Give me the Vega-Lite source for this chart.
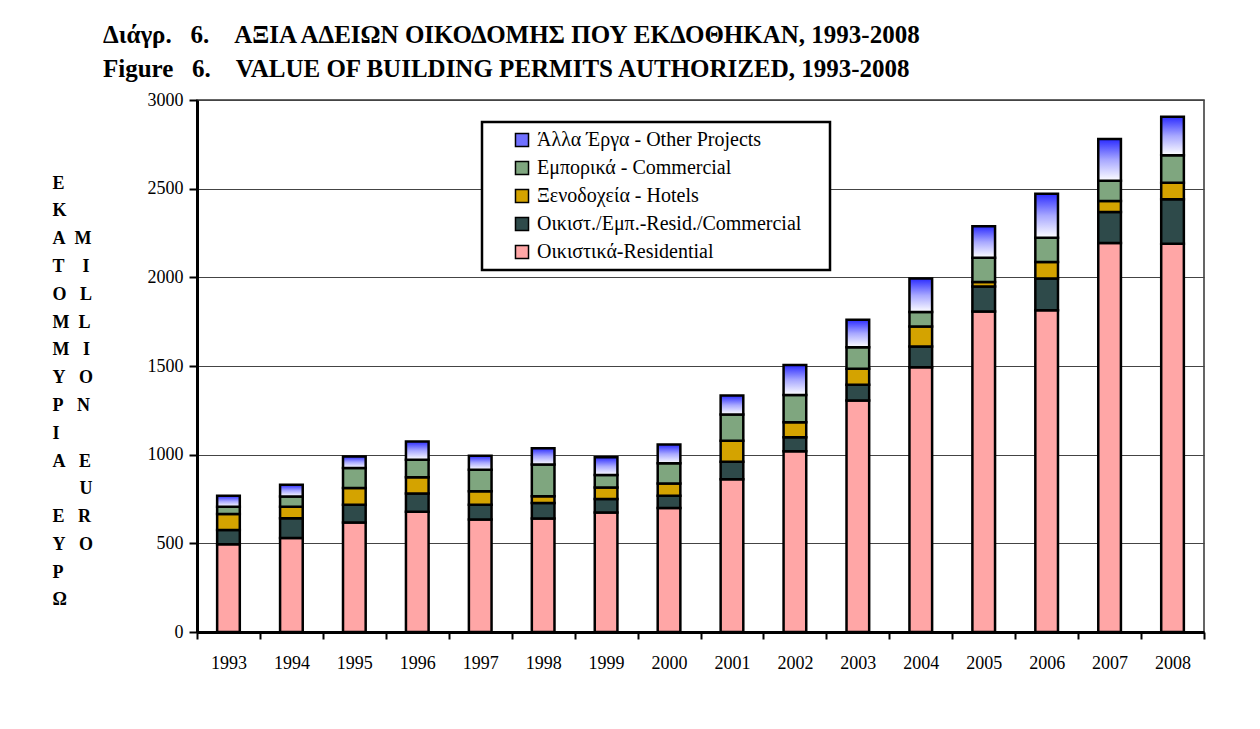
{
  "$schema": "https://vega.github.io/schema/vega-lite/v6.json",
  "autosize": "none",
  "width": 1007,
  "height": 532,
  "padding": {"left": 197, "top": 100, "right": 56, "bottom": 97},
  "background": "white",
  "config": {
    "font": "Liberation Serif",
    "view": {"stroke": "#333333", "strokeWidth": 1.5},
    "axis": {"labelFont": "Liberation Serif", "titleFont": "Liberation Serif"},
    "legend": {"labelFont": "Liberation Serif", "titleFont": "Liberation Serif"}
  },
  "title": {
    "text": [
      "Διάγρ.\u00a0\u00a0\u00a06.\u00a0\u00a0\u00a0\u00a0ΑΞΙΑ ΑΔΕΙΩΝ ΟΙΚΟΔΟΜΗΣ ΠΟΥ ΕΚΔΟΘΗΚΑΝ, 1993-2008",
      "Figure\u00a0\u00a0\u00a06.\u00a0\u00a0\u00a0\u00a0VALUE OF BUILDING PERMITS AUTHORIZED, 1993-2008"
    ],
    "anchor": "start",
    "frame": "group",
    "orient": "top",
    "dx": -94,
    "offset": 9,
    "font": "Liberation Serif",
    "fontSize": 25,
    "fontWeight": "bold",
    "lineHeight": 34,
    "color": "black"
  },
  "data": {
    "values": [
      {"year": "1993", "cat": "Οικιστικά-Residential", "ord": 1, "value": 495},
      {"year": "1993", "cat": "Οικιστ./Εμπ.-Resid./Commercial", "ord": 2, "value": 80},
      {"year": "1993", "cat": "Ξενοδοχεία - Hotels", "ord": 3, "value": 90},
      {"year": "1993", "cat": "Εμπορικά - Commercial", "ord": 4, "value": 41},
      {"year": "1993", "cat": "Άλλα Έργα - Other Projects", "ord": 5, "value": 62},
      {"year": "1994", "cat": "Οικιστικά-Residential", "ord": 1, "value": 530},
      {"year": "1994", "cat": "Οικιστ./Εμπ.-Resid./Commercial", "ord": 2, "value": 112},
      {"year": "1994", "cat": "Ξενοδοχεία - Hotels", "ord": 3, "value": 64},
      {"year": "1994", "cat": "Εμπορικά - Commercial", "ord": 4, "value": 58},
      {"year": "1994", "cat": "Άλλα Έργα - Other Projects", "ord": 5, "value": 66},
      {"year": "1995", "cat": "Οικιστικά-Residential", "ord": 1, "value": 618},
      {"year": "1995", "cat": "Οικιστ./Εμπ.-Resid./Commercial", "ord": 2, "value": 100},
      {"year": "1995", "cat": "Ξενοδοχεία - Hotels", "ord": 3, "value": 94},
      {"year": "1995", "cat": "Εμπορικά - Commercial", "ord": 4, "value": 113},
      {"year": "1995", "cat": "Άλλα Έργα - Other Projects", "ord": 5, "value": 65},
      {"year": "1996", "cat": "Οικιστικά-Residential", "ord": 1, "value": 678},
      {"year": "1996", "cat": "Οικιστ./Εμπ.-Resid./Commercial", "ord": 2, "value": 103},
      {"year": "1996", "cat": "Ξενοδοχεία - Hotels", "ord": 3, "value": 91},
      {"year": "1996", "cat": "Εμπορικά - Commercial", "ord": 4, "value": 100},
      {"year": "1996", "cat": "Άλλα Έργα - Other Projects", "ord": 5, "value": 102},
      {"year": "1997", "cat": "Οικιστικά-Residential", "ord": 1, "value": 635},
      {"year": "1997", "cat": "Οικιστ./Εμπ.-Resid./Commercial", "ord": 2, "value": 83},
      {"year": "1997", "cat": "Ξενοδοχεία - Hotels", "ord": 3, "value": 75},
      {"year": "1997", "cat": "Εμπορικά - Commercial", "ord": 4, "value": 122},
      {"year": "1997", "cat": "Άλλα Έργα - Other Projects", "ord": 5, "value": 79},
      {"year": "1998", "cat": "Οικιστικά-Residential", "ord": 1, "value": 640},
      {"year": "1998", "cat": "Οικιστ./Εμπ.-Resid./Commercial", "ord": 2, "value": 87},
      {"year": "1998", "cat": "Ξενοδοχεία - Hotels", "ord": 3, "value": 38},
      {"year": "1998", "cat": "Εμπορικά - Commercial", "ord": 4, "value": 179},
      {"year": "1998", "cat": "Άλλα Έργα - Other Projects", "ord": 5, "value": 92},
      {"year": "1999", "cat": "Οικιστικά-Residential", "ord": 1, "value": 674},
      {"year": "1999", "cat": "Οικιστ./Εμπ.-Resid./Commercial", "ord": 2, "value": 76},
      {"year": "1999", "cat": "Ξενοδοχεία - Hotels", "ord": 3, "value": 65},
      {"year": "1999", "cat": "Εμπορικά - Commercial", "ord": 4, "value": 70},
      {"year": "1999", "cat": "Άλλα Έργα - Other Projects", "ord": 5, "value": 100},
      {"year": "2000", "cat": "Οικιστικά-Residential", "ord": 1, "value": 699},
      {"year": "2000", "cat": "Οικιστ./Εμπ.-Resid./Commercial", "ord": 2, "value": 69},
      {"year": "2000", "cat": "Ξενοδοχεία - Hotels", "ord": 3, "value": 70},
      {"year": "2000", "cat": "Εμπορικά - Commercial", "ord": 4, "value": 113},
      {"year": "2000", "cat": "Άλλα Έργα - Other Projects", "ord": 5, "value": 106},
      {"year": "2001", "cat": "Οικιστικά-Residential", "ord": 1, "value": 861},
      {"year": "2001", "cat": "Οικιστ./Εμπ.-Resid./Commercial", "ord": 2, "value": 99},
      {"year": "2001", "cat": "Ξενοδοχεία - Hotels", "ord": 3, "value": 119},
      {"year": "2001", "cat": "Εμπορικά - Commercial", "ord": 4, "value": 147},
      {"year": "2001", "cat": "Άλλα Έργα - Other Projects", "ord": 5, "value": 107},
      {"year": "2002", "cat": "Οικιστικά-Residential", "ord": 1, "value": 1019},
      {"year": "2002", "cat": "Οικιστ./Εμπ.-Resid./Commercial", "ord": 2, "value": 79},
      {"year": "2002", "cat": "Ξενοδοχεία - Hotels", "ord": 3, "value": 85},
      {"year": "2002", "cat": "Εμπορικά - Commercial", "ord": 4, "value": 154},
      {"year": "2002", "cat": "Άλλα Έργα - Other Projects", "ord": 5, "value": 168},
      {"year": "2003", "cat": "Οικιστικά-Residential", "ord": 1, "value": 1305},
      {"year": "2003", "cat": "Οικιστ./Εμπ.-Resid./Commercial", "ord": 2, "value": 89},
      {"year": "2003", "cat": "Ξενοδοχεία - Hotels", "ord": 3, "value": 90},
      {"year": "2003", "cat": "Εμπορικά - Commercial", "ord": 4, "value": 122},
      {"year": "2003", "cat": "Άλλα Έργα - Other Projects", "ord": 5, "value": 155},
      {"year": "2004", "cat": "Οικιστικά-Residential", "ord": 1, "value": 1493},
      {"year": "2004", "cat": "Οικιστ./Εμπ.-Resid./Commercial", "ord": 2, "value": 117},
      {"year": "2004", "cat": "Ξενοδοχεία - Hotels", "ord": 3, "value": 113},
      {"year": "2004", "cat": "Εμπορικά - Commercial", "ord": 4, "value": 81},
      {"year": "2004", "cat": "Άλλα Έργα - Other Projects", "ord": 5, "value": 189},
      {"year": "2005", "cat": "Οικιστικά-Residential", "ord": 1, "value": 1808},
      {"year": "2005", "cat": "Οικιστ./Εμπ.-Resid./Commercial", "ord": 2, "value": 141},
      {"year": "2005", "cat": "Ξενοδοχεία - Hotels", "ord": 3, "value": 25},
      {"year": "2005", "cat": "Εμπορικά - Commercial", "ord": 4, "value": 137},
      {"year": "2005", "cat": "Άλλα Έργα - Other Projects", "ord": 5, "value": 177},
      {"year": "2006", "cat": "Οικιστικά-Residential", "ord": 1, "value": 1814},
      {"year": "2006", "cat": "Οικιστ./Εμπ.-Resid./Commercial", "ord": 2, "value": 180},
      {"year": "2006", "cat": "Ξενοδοχεία - Hotels", "ord": 3, "value": 92},
      {"year": "2006", "cat": "Εμπορικά - Commercial", "ord": 4, "value": 137},
      {"year": "2006", "cat": "Άλλα Έργα - Other Projects", "ord": 5, "value": 249},
      {"year": "2007", "cat": "Οικιστικά-Residential", "ord": 1, "value": 2194},
      {"year": "2007", "cat": "Οικιστ./Εμπ.-Resid./Commercial", "ord": 2, "value": 175},
      {"year": "2007", "cat": "Ξενοδοχεία - Hotels", "ord": 3, "value": 62},
      {"year": "2007", "cat": "Εμπορικά - Commercial", "ord": 4, "value": 113},
      {"year": "2007", "cat": "Άλλα Έργα - Other Projects", "ord": 5, "value": 236},
      {"year": "2008", "cat": "Οικιστικά-Residential", "ord": 1, "value": 2190},
      {"year": "2008", "cat": "Οικιστ./Εμπ.-Resid./Commercial", "ord": 2, "value": 251},
      {"year": "2008", "cat": "Ξενοδοχεία - Hotels", "ord": 3, "value": 92},
      {"year": "2008", "cat": "Εμπορικά - Commercial", "ord": 4, "value": 156},
      {"year": "2008", "cat": "Άλλα Έργα - Other Projects", "ord": 5, "value": 217}
    ]
  },
  "mark": {"type": "bar", "width": {"band": 0.36}, "stroke": "black", "strokeWidth": 2.5},
  "encoding": {
    "x": {
      "field": "year",
      "type": "ordinal",
      "scale": {"paddingInner": 0, "paddingOuter": 0},
      "axis": {
        "title": null,
        "labelAngle": 0,
        "labelFont": "Liberation Serif",
        "labelFontSize": 18,
        "labelColor": "black",
        "labelPadding": 15,
        "tickBand": "extent",
        "tickSize": 7,
        "tickWidth": 2,
        "tickColor": "black",
        "domainColor": "black",
        "domainWidth": 3,
        "grid": false
      }
    },
    "y": {
      "field": "value",
      "type": "quantitative",
      "stack": "zero",
      "scale": {"domain": [0, 3000], "nice": false},
      "axis": {
        "values": [0, 500, 1000, 1500, 2000, 2500, 3000],
        "format": "d",
        "labelFont": "Liberation Serif",
        "labelFontSize": 18,
        "labelColor": "black",
        "labelPadding": 6,
        "tickSize": 8,
        "tickWidth": 2,
        "tickColor": "black",
        "domainColor": "black",
        "domainWidth": 3,
        "grid": true,
        "gridColor": "#444444",
        "gridWidth": 1.2,
        "title": [
          "E",
          "K",
          "A\u00a0\u00a0M",
          "T\u00a0\u00a0\u00a0\u00a0I",
          "O\u00a0\u00a0\u00a0L",
          "M\u00a0\u00a0L",
          "M\u00a0\u00a0\u00a0I",
          "Y\u00a0\u00a0\u00a0O",
          "P\u00a0\u00a0\u00a0N",
          "I",
          "A\u00a0\u00a0\u00a0E",
          "\u200b\u00a0\u00a0\u00a0\u00a0\u00a0\u00a0U",
          "E\u00a0\u00a0\u00a0R",
          "Y\u00a0\u00a0\u00a0O",
          "P",
          "Ω"
        ],
        "titleAngle": 0,
        "titleAlign": "left",
        "titleBaseline": "middle",
        "titleX": -145,
        "titleY": 83,
        "titleFont": "Liberation Serif",
        "titleFontSize": 18,
        "titleFontWeight": "bold",
        "titleLineHeight": 27.8,
        "titleColor": "black"
      }
    },
    "order": {"field": "ord", "type": "quantitative", "sort": "ascending"},
    "color": {
      "field": "cat",
      "type": "nominal",
      "scale": {
        "domain": ["Άλλα Έργα - Other Projects", "Εμπορικά - Commercial", "Ξενοδοχεία - Hotels", "Οικιστ./Εμπ.-Resid./Commercial", "Οικιστικά-Residential"],
        "range": ["#7070ff", "#7fa67f", "#d4a300", "#2e4a4a", "#ffa6a6"]
      },
      "condition": {
        "test": "datum.cat === 'Άλλα Έργα - Other Projects'",
        "value": {
          "gradient": "linear",
          "x1": 0, "y1": 0, "x2": 0, "y2": 1,
          "stops": [
            {"offset": 0, "color": "#2b2bff"},
            {"offset": 0.5, "color": "#a8a8ff"},
            {"offset": 1, "color": "#ffffff"}
          ]
        }
      },
      "legend": {
        "orient": "none",
        "legendX": 285,
        "legendY": 22,
        "title": "\u00a0",
        "titleOrient": "left",
        "titleFontSize": 10,
        "titlePadding": 22,
        "padding": 8,
        "strokeColor": "black",
        "fillColor": "white",
        "symbolType": "square",
        "symbolSize": 170,
        "symbolStrokeColor": "black",
        "symbolStrokeWidth": 1.5,
        "labelFont": "Liberation Serif",
        "labelFontSize": 20,
        "labelColor": "black",
        "labelOffset": 5,
        "labelLimit": 400,
        "labelExpr": "datum.label + '\u00a0\u00a0\u00a0\u00a0\u200b'",
        "rowPadding": 8,
        "encode": {"legend": {"update": {"strokeWidth": {"value": 2.5}}}}
      }
    }
  }
}
